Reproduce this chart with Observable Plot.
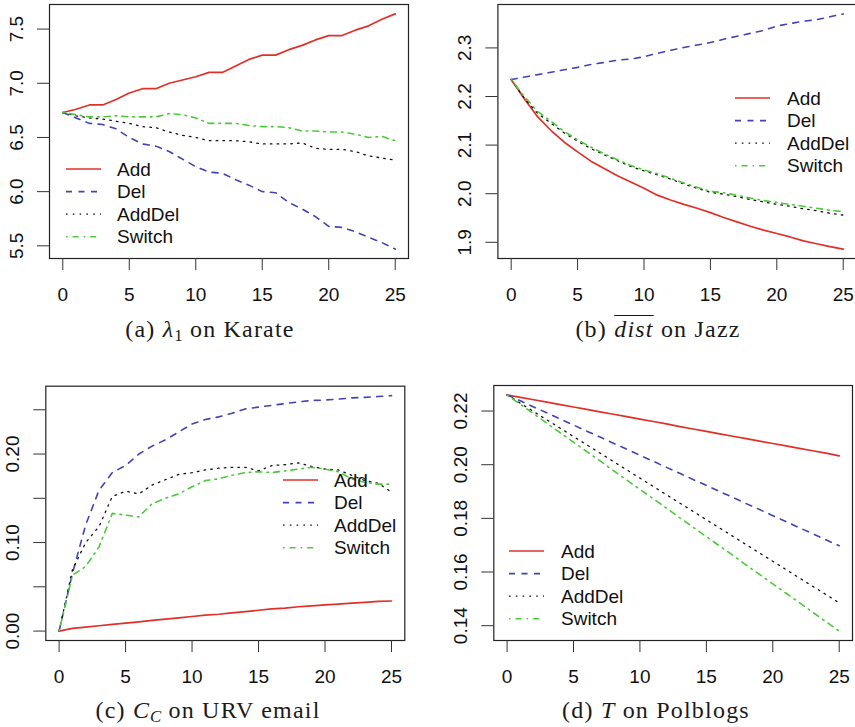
<!DOCTYPE html>
<html>
<head>
<meta charset="utf-8">
<script src="https://cdn.jsdelivr.net/npm/d3@7"></script>
<script src="https://cdn.jsdelivr.net/npm/@observablehq/plot@0.6"></script>
<style>
  html, body { margin: 0; padding: 0; background: #fff; }
  body { position: relative; width: 855px; height: 727px; overflow: hidden; font-family: "Liberation Sans", Arial, Helvetica, sans-serif; }
  .panel { position: absolute; }
  .panel svg { overflow: visible; background: transparent !important; max-width: none !important; }
  .legend { position: absolute; }
  .caption { position: absolute; width: 420px; text-align: center; font-family: "Liberation Serif", "Times New Roman", serif; font-size: 24px; letter-spacing: 1.2px; color: #1a1a1a; line-height: 1; white-space: nowrap; }
  .caption sub { font-size: 0.7em; vertical-align: -0.25em; line-height: 0; letter-spacing: 0; }
  .ov { text-decoration: overline; text-decoration-thickness: 1px; }
</style>
</head>
<body>
<script>
// ---------- data ----------
const steps = [0,1,2,3,4,5,6,7,8,9,10,11,12,13,14,15,16,17,18,19,20,21,22,23,24,25];
const seriesNames = ["Add", "Del", "AddDel", "Switch"];
const xTicks = [0, 5, 10, 15, 20, 25];

// (a) lambda_1 on Karate
const karateAdd    = [6.73,6.76,6.80,6.80,6.85,6.91,6.95,6.95,7.00,7.03,7.06,7.10,7.10,7.16,7.22,7.26,7.26,7.31,7.35,7.40,7.44,7.44,7.49,7.53,7.59,7.64];
const karateDel    = [6.73,6.68,6.63,6.62,6.58,6.50,6.44,6.42,6.37,6.30,6.23,6.18,6.17,6.11,6.06,6.00,5.99,5.90,5.84,5.77,5.68,5.67,5.63,5.58,5.53,5.47];
const karateAddDel = [6.73,6.70,6.68,6.67,6.65,6.63,6.60,6.59,6.55,6.52,6.50,6.47,6.47,6.47,6.46,6.44,6.44,6.44,6.45,6.40,6.39,6.39,6.37,6.33,6.31,6.29];
const karateSwitch = [6.73,6.71,6.69,6.69,6.70,6.69,6.69,6.69,6.72,6.71,6.68,6.63,6.63,6.63,6.61,6.60,6.60,6.59,6.56,6.56,6.55,6.55,6.53,6.50,6.51,6.47];
const karateYTicks = [5.5, 6.0, 6.5, 7.0, 7.5];
const karateYLabels = ["5.5", "6.0", "6.5", "7.0", "7.5"];

// (b) mean distance on Jazz
const jazzAdd    = [2.235,2.195,2.158,2.130,2.106,2.086,2.067,2.052,2.037,2.024,2.011,1.997,1.987,1.978,1.970,1.961,1.951,1.942,1.933,1.925,1.918,1.911,1.903,1.897,1.891,1.886];
const jazzDel    = [2.235,2.240,2.245,2.250,2.255,2.260,2.266,2.270,2.275,2.277,2.282,2.289,2.295,2.301,2.306,2.311,2.318,2.324,2.330,2.336,2.345,2.350,2.355,2.358,2.364,2.370];
const jazzAddDel = [2.235,2.196,2.165,2.145,2.125,2.108,2.093,2.080,2.068,2.056,2.047,2.039,2.030,2.020,2.011,2.003,1.999,1.994,1.988,1.983,1.978,1.974,1.969,1.965,1.960,1.956];
const jazzSwitch = [2.235,2.200,2.169,2.149,2.128,2.111,2.096,2.082,2.070,2.058,2.049,2.041,2.032,2.022,2.013,2.005,2.002,1.997,1.991,1.986,1.982,1.978,1.974,1.970,1.966,1.963];
const jazzYTicks = [1.9, 2.0, 2.1, 2.2, 2.3];
const jazzYLabels = ["1.9", "2.0", "2.1", "2.2", "2.3"];

// (c) C_C on URV email
const urvAdd    = [0,0.003,0.0045,0.006,0.0075,0.009,0.0105,0.012,0.0135,0.015,0.0165,0.018,0.019,0.0205,0.022,0.0235,0.025,0.026,0.0275,0.0285,0.0295,0.0305,0.0315,0.0325,0.0335,0.034];
const urvDel    = [0,0.065,0.120,0.159,0.179,0.187,0.200,0.209,0.216,0.225,0.234,0.239,0.242,0.246,0.251,0.253,0.255,0.257,0.259,0.2605,0.261,0.262,0.2635,0.264,0.265,0.266];
const urvAddDel = [0,0.069,0.100,0.118,0.152,0.158,0.155,0.165,0.171,0.177,0.179,0.182,0.184,0.185,0.185,0.181,0.187,0.188,0.190,0.186,0.183,0.182,0.176,0.170,0.167,0.157];
const urvSwitch = [0,0.063,0.073,0.095,0.133,0.131,0.129,0.144,0.150,0.155,0.163,0.170,0.172,0.176,0.179,0.180,0.179,0.181,0.183,0.185,0.183,0.180,0.172,0.168,0.166,0.166];
const urvYTicks = [0, 0.05, 0.10, 0.15, 0.20, 0.25];
const urvYLabelTicks = [0, 0.10, 0.20];
const urvYLabels = ["0.00", "0.10", "0.20"];

// (d) T on Polblogs
const polAdd    = [0.2260,0.2251,0.2242,0.2233,0.2224,0.2215,0.2206,0.2197,0.2188,0.2179,0.2170,0.2161,0.2152,0.2142,0.2133,0.2124,0.2115,0.2106,0.2097,0.2088,0.2079,0.2070,0.2061,0.2052,0.2043,0.2033];
const polDel    = [0.2260,0.2238,0.2215,0.2193,0.2170,0.2148,0.2125,0.2103,0.2080,0.2058,0.2035,0.2013,0.1990,0.1968,0.1945,0.1923,0.1900,0.1878,0.1855,0.1833,0.1810,0.1788,0.1765,0.1743,0.1720,0.1698];
const polAddDel = [0.2260,0.2229,0.2198,0.2167,0.2136,0.2105,0.2074,0.2043,0.2012,0.1981,0.1950,0.1919,0.1888,0.1857,0.1826,0.1795,0.1764,0.1733,0.1702,0.1671,0.1640,0.1609,0.1578,0.1547,0.1516,0.1485];
const polSwitch = [0.2260,0.2225,0.2190,0.2154,0.2119,0.2084,0.2049,0.2014,0.1978,0.1943,0.1908,0.1873,0.1838,0.1802,0.1767,0.1732,0.1697,0.1662,0.1626,0.1591,0.1556,0.1521,0.1486,0.1450,0.1415,0.1380];
const polYTicks = [0.14, 0.16, 0.18, 0.20, 0.22];
const polYLabels = ["0.14", "0.16", "0.18", "0.20", "0.22"];

// ---------- styles ----------
const styles = {
  Add:    {stroke: "#e0302a", dash: null,            width: 1.7},
  Del:    {stroke: "#4343b3", dash: "6,6.5",         width: 1.6},
  AddDel: {stroke: "#111111", dash: "1.6,5.2",       width: 1.3},
  Switch: {stroke: "#4cc93a", dash: "1.6,5,6,5",     width: 1.6}
};
const FONT = 19;

function extend(ext) { const r = ext[1] - ext[0]; return [ext[0] - 0.04 * r, ext[1] + 0.04 * r]; }

function panel(cfg) {
  const all = cfg.series.flat();
  const xdom = extend(d3.extent(steps));
  const ydom = extend(d3.extent(all));
  const marks = [
    Plot.frame({stroke: "#222", strokeWidth: 1.2}),
    Plot.axisX(xTicks, {tickSize: 12, stroke: "#333", strokeWidth: 1, fill: "none", label: null}),
    Plot.axisY(cfg.yTicks, {tickSize: 12, stroke: "#333", strokeWidth: 1, fill: "none", label: null}),
    Plot.text(xTicks, {x: d => d, frameAnchor: "bottom", dy: 36, lineAnchor: "middle", textAnchor: "middle", text: d => String(d), fontSize: FONT, fill: "#111"}),
    Plot.text(cfg.yLabelTicks, {y: d => d, frameAnchor: "left", dx: -33, rotate: -90, lineAnchor: "middle", textAnchor: "middle", text: (d, i) => cfg.yLabels[i], fontSize: FONT, fill: "#111"})
  ];
  cfg.series.forEach((vals, k) => {
    const st = styles[seriesNames[k]];
    const rows = steps.map((s, i) => ({step: s, value: vals[i]}));
    marks.push(Plot.line(rows, {x: "step", y: "value", stroke: st.stroke, strokeWidth: st.width, strokeDasharray: st.dash, strokeLinejoin: "round"}));
  });
  const svg = Plot.plot({
    width: cfg.w, height: cfg.h,
    marginLeft: cfg.m[0], marginRight: cfg.m[1], marginTop: cfg.m[2], marginBottom: cfg.m[3],
    x: {domain: xdom, label: null},
    y: {domain: ydom, label: null},
    style: {fontFamily: '"Liberation Sans", Arial, Helvetica, sans-serif', background: "transparent", overflow: "visible"},
    marks
  });
  const div = document.createElement("div");
  div.className = "panel";
  div.style.left = cfg.left + "px";
  div.style.top = cfg.top + "px";
  div.appendChild(svg);
  document.body.appendChild(div);

  // legend (R style, no box)
  const lg = cfg.legend;
  const rowH = 22.6;
  const lsvg = d3.create("svg").attr("width", 160).attr("height", rowH * 4 + 4)
    .style("overflow", "visible");
  seriesNames.forEach((name, i) => {
    const st = styles[name];
    const y = 11 + i * rowH;
    lsvg.append("line").attr("x1", 0).attr("x2", 35).attr("y1", y).attr("y2", y)
      .attr("stroke", st.stroke).attr("stroke-width", st.width)
      .attr("stroke-dasharray", st.dash);
    lsvg.append("text").attr("x", lg.tx - lg.x).attr("y", y).attr("dy", "0.35em")
      .attr("font-size", FONT).attr("fill", "#111")
      .attr("font-family", '"Liberation Sans", Arial, Helvetica, sans-serif')
      .text(name);
  });
  const ldiv = document.createElement("div");
  ldiv.className = "legend";
  ldiv.style.left = lg.x + "px";
  ldiv.style.top = (lg.y - 11) + "px";
  ldiv.appendChild(lsvg.node());
  document.body.appendChild(ldiv);

  const cap = document.createElement("div");
  cap.className = "caption";
  cap.style.left = (cfg.capX - 210) + "px";
  cap.style.top = (cfg.capY - 12) + "px";
  cap.innerHTML = cfg.caption;
  document.body.appendChild(cap);
}

panel({
  series: [karateAdd, karateDel, karateAddDel, karateSwitch],
  yTicks: karateYTicks, yLabelTicks: karateYTicks, yLabels: karateYLabels,
  left: 0, top: 0, w: 427, h: 330, m: [49, 19, 4, 72],
  legend: {x: 66, tx: 117, y: 169},
  caption: '(a) <i>λ</i><sub>1</sub> on Karate', capX: 210, capY: 329
});
panel({
  series: [jazzAdd, jazzDel, jazzAddDel, jazzSwitch],
  yTicks: jazzYTicks, yLabelTicks: jazzYTicks, yLabels: jazzYLabels,
  left: 427, top: 0, w: 430, h: 330, m: [70.4, 1, 4, 72],
  legend: {x: 735, tx: 787, y: 98},
  caption: '(b) <span class="ov"><i>dist</i></span> on Jazz', capX: 658, capY: 329
});
panel({
  series: [urvAdd, urvDel, urvAddDel, urvSwitch],
  yTicks: urvYTicks, yLabelTicks: urvYLabelTicks, yLabels: urvYLabels,
  left: 0, top: 340, w: 427, h: 360, m: [45.3, 22.7, 45.7, 60],
  legend: {x: 283, tx: 334, y: 479.5},
  caption: '(c) <i>C</i><sub><i>C</i></sub> on URV email', capX: 208, capY: 710
});
panel({
  series: [polAdd, polDel, polAddDel, polSwitch],
  yTicks: polYTicks, yLabelTicks: polYTicks, yLabels: polYLabels,
  left: 427, top: 340, w: 428, h: 360, m: [66.3, 3, 45, 60],
  legend: {x: 509, tx: 561, y: 551},
  caption: '(d) <i>T</i> on Polblogs', capX: 656, capY: 710
});
</script>
</body>
</html>
